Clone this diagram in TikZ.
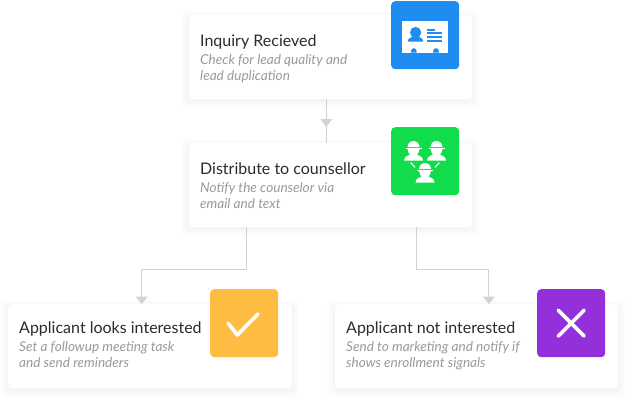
\documentclass[tikz,border=0pt]{standalone}
\usepackage{fontspec}
\setmainfont{Lato}
\usetikzlibrary{arrows.meta,calc}
\definecolor{conn}{HTML}{D2D2D2}
\definecolor{titlec}{HTML}{2B2B2B}
\definecolor{subc}{HTML}{9A9A9A}
\definecolor{iconblue}{HTML}{1E8CF0}
\definecolor{icongreen}{HTML}{10DC4C}
\definecolor{iconyellow}{HTML}{FFBC42}
\definecolor{iconpurple}{HTML}{9330DC}
\tikzset{
  card/.style={anchor=north west,fill=white,rounded corners=4pt,minimum width=283pt,minimum height=84pt,inner sep=0pt},
  iconbox/.style={anchor=north west,rounded corners=4pt,minimum width=68pt,minimum height=68pt,inner sep=0pt},
  cardtitle/.style={anchor=base west,inner sep=0pt,text=titlec,font=\fontsize{16}{19}\selectfont},
  cardsub/.style={anchor=base west,inner sep=0pt,text=subc,align=left,font=\fontsize{13.6}{15.7}\selectfont\itshape},
  connector/.style={draw=conn,line width=1pt},
  arrowed/.style={connector,-{Triangle[length=7.5pt,width=12pt,fill=conn]}},
  glyph/.style={fill=white,draw=none},
}
\newcommand{\softshadow}[4]{%
  \foreach \s in {1,2,...,10}{
    \fill[black,opacity=0.0035,rounded corners=6pt]
      (#1-\s*0.8,#2-\s*0.6+2) rectangle (#3+\s*0.8,#4+\s*0.9+1);
  }}
\newcommand{\personicon}[1]{%
  \begin{scope}[shift={(#1)}]
    \fill[glyph] (-6,-7.5) arc[start angle=180,end angle=360,radius=6] -- cycle;
    \fill[glyph] (-6,-5.5) -- (6,-5.5) -- (5,-2) -- (3.5,0) .. controls (4.5,1) and (9.5,1.5) .. (9.5,6) -- (-9.5,6) .. controls (-9.5,1.5) and (-4.5,1) .. (-3.5,0) -- (-5,-2) -- cycle;
    \fill[white] (-8,-6.8) rectangle (8,-6.2);
  \end{scope}}
\begin{document}
\begin{tikzpicture}[x=1pt,y=-1pt]
\useasboundingbox (0,0) rectangle (627,400);
\fill[white] (0,0) rectangle (627,400);
% shadows
\softshadow{189}{15}{472}{99}
\softshadow{189}{143}{472}{227}
\softshadow{8}{304}{292}{388}
\softshadow{335}{304}{618}{388}
% cards
\node[card] (inq) at (189,15) {};
\node[card] (dist) at (189,143) {};
\node[card,minimum width=284pt] (yes) at (8,304) {};
\node[card] (no) at (335,304) {};
% connectors
\coordinate (midtip) at (326.3,127);
\draw[connector] (inq.south -| midtip) -- (dist.north -| midtip);
\fill[conn] (midtip) -- ++(-6,-8) -- ++(12,0) -- cycle;
\coordinate (leftout) at (246.7,269.3);
\coordinate (leftin) at (141.7,269.3);
\coordinate (rightout) at (416.3,269.3);
\coordinate (rightin) at (488.8,269.3);
\draw[arrowed] (dist.south -| leftout) -- (leftout) -- (leftin) -- (yes.north -| leftin);
\draw[arrowed] (dist.south -| rightout) -- (rightout) -- (rightin) -- (no.north -| rightin);
% texts
\node[cardtitle] (t1) at (200,46) {Inquiry Recieved};
\node[cardsub] (s1) at (200,80) {Check for lead quality and\\lead duplication};
\node[cardtitle] (t2) at (200,174) {Distribute to counsellor};
\node[cardsub] (s2) at (200,208) {Notify the counselor via\\email and text};
\node[cardtitle] (t3) at (19,333) {Applicant looks interested};
\node[cardsub] (s3) at (19,367) {Set a followup meeting task\\and send reminders};
\node[cardtitle] (t4) at (346,333) {Applicant not interested};
\node[cardsub] (s4) at (346,367) {Send to marketing and notify if\\shows enrollment signals};
% icon tiles
\node[iconbox,fill=iconblue] (ib) at (391,1) {};
\node[iconbox,fill=icongreen] (ig) at (391,127) {};
\node[iconbox,fill=iconyellow] (iy) at (210,289) {};
\node[iconbox,fill=iconpurple] (ip) at (537,289) {};
% blue ID card
\begin{scope}[shift={(ib.north west)}]
  \fill[glyph] (11,20) rectangle (56.7,51.7);
  \fill[iconblue] (20,51.7) -- (20,50) arc[start angle=180,end angle=360,radius=2.8] -- (25.6,51.7) -- cycle;
  \fill[iconblue] (42.2,51.7) -- (42.2,50) arc[start angle=180,end angle=360,radius=2.8] -- (47.8,51.7) -- cycle;
  \fill[iconblue] (24.6,31.5) circle[radius=5.6];
  \fill[iconblue] (16.7,40.7) .. controls (16.7,36) and (22,36) .. (24.5,35.5) .. controls (27,36) and (32.3,36) .. (32.3,40.7) -- cycle;
  \fill[iconblue] (36,27.5) rectangle (44,29.5);
  \fill[iconblue] (36,31) rectangle (51.3,33);
  \fill[iconblue] (36,35) rectangle (51.3,36.7);
  \fill[iconblue] (36,39) rectangle (51.3,41);
\end{scope}
% green people
\personicon{$(ig.north west)+(22.5,27.5)$}
\personicon{$(ig.north west)+(45.5,27.5)$}
\personicon{$(ig.north west)+(34,49.5)$}
\foreach \a/\b in {19.7/24,48.3/44}{
  \draw[white,line width=1.2pt] ($(ig.north west)+(\a,35.7)$) -- ($(ig.north west)+(\b,40.3)$);
}
% check
\draw[white,line width=3.6pt,line cap=round,line join=round] ($(iy.north west)+(18,34)$) -- ($(iy.north west)+(27.3,46)$) -- ($(iy.north west)+(48,25)$);
% cross
\draw[white,line width=3.6pt,line cap=round] ($(ip.center)+(-13,-13)$) -- ($(ip.center)+(13,13)$);
\draw[white,line width=3.6pt,line cap=round] ($(ip.center)+(13,-13)$) -- ($(ip.center)+(-13,13)$);
\end{tikzpicture}
\end{document}
